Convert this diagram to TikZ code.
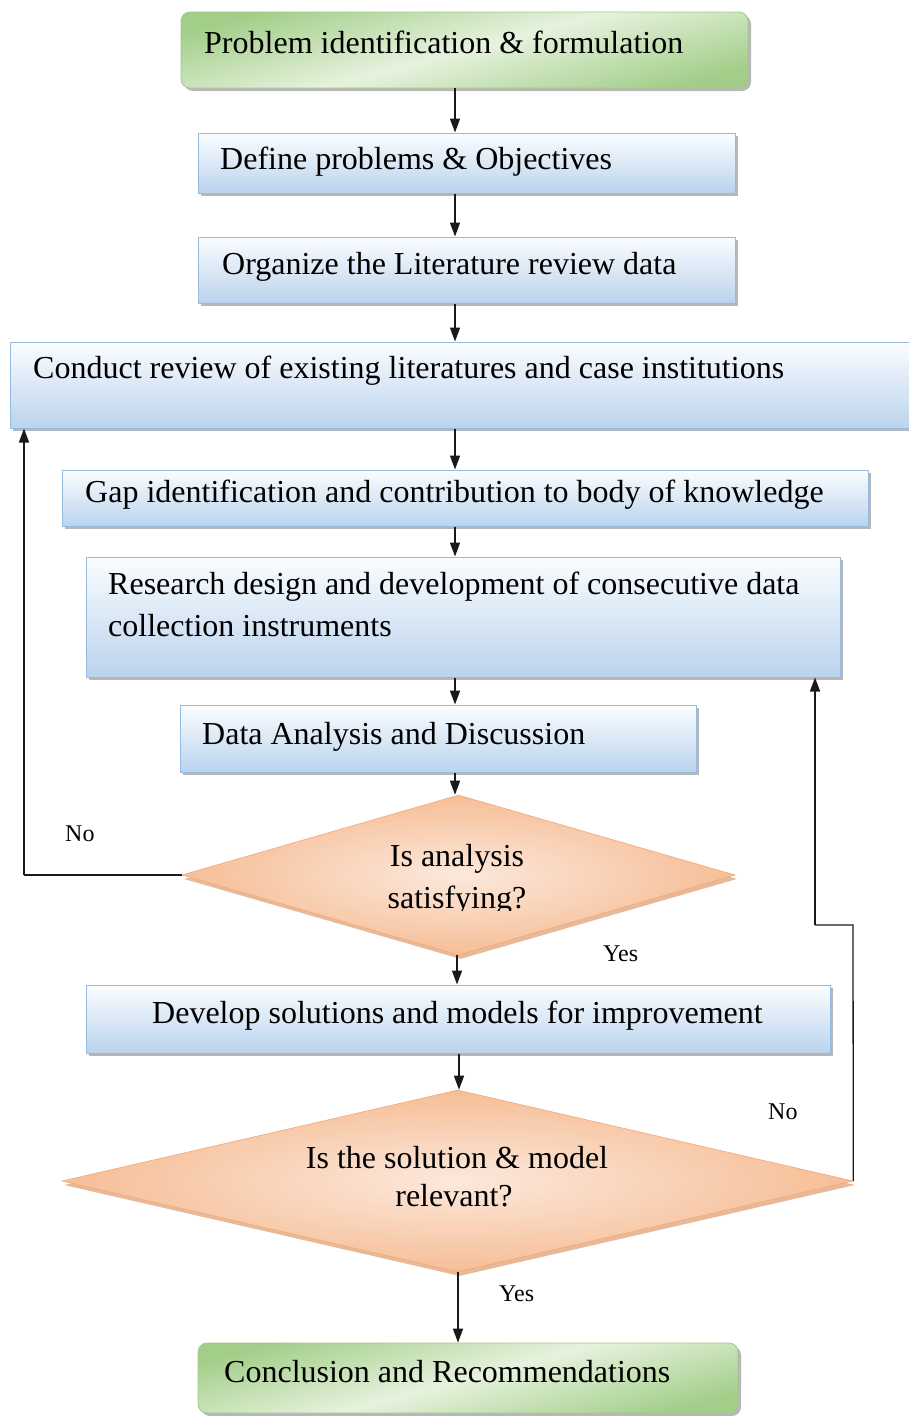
\documentclass[tikz,border=0pt]{standalone}
\usepackage{fontspec}
\setmainfont{Liberation Serif}
\usetikzlibrary{shapes.geometric,shadows,arrows.meta,calc}

\definecolor{bluetop}{RGB}{251,253,255}
\definecolor{bluebot}{RGB}{186,211,237}
\definecolor{blueline}{RGB}{150,186,224}
\definecolor{greendark}{RGB}{163,206,137}
\definecolor{greenlight}{RGB}{230,242,222}
\definecolor{greenline}{RGB}{160,202,134}
\definecolor{peachout}{RGB}{246,190,150}
\definecolor{peachin}{RGB}{252,232,220}
\definecolor{peachline}{RGB}{240,170,120}
\definecolor{peachshadow}{RGB}{225,168,128}

\tikzset{
  stepbox/.style={rectangle, draw=blueline, line width=1pt, inner sep=0pt,
    top color=bluetop, bottom color=bluebot,
    drop shadow={shadow xshift=3pt, shadow yshift=-3pt, fill=black!40, opacity=0.7}},
  termbox/.style={rectangle, rounded corners=9pt, draw=greenline, line width=0.8pt, inner sep=0pt,
    top color=greendark, bottom color=greendark, middle color=greenlight, shading angle=15,
    drop shadow={shadow xshift=3pt, shadow yshift=-3pt, fill=black!40, opacity=0.7}},
  decision/.style={diamond, inner sep=0pt, draw=peachline, line width=0.6pt,
    inner color=peachin, outer color=peachout,
    drop shadow={shadow xshift=2pt, shadow yshift=-4pt, fill=peachshadow, opacity=0.8}},
  txt/.style={inner sep=0pt, anchor=base west, font=\fontsize{32}{42}\selectfont},
  ctxt/.style={inner sep=0pt, anchor=base, font=\fontsize{32}{42}\selectfont},
  lbl/.style={inner sep=0pt, anchor=base west, font=\fontsize{24}{29}\selectfont},
  arr/.style={line width=1.5pt, draw=black!90, -{Triangle[length=14pt,width=10pt]}},
  link/.style={line width=1.3pt, draw=black!90},
}

\begin{document}
\begin{tikzpicture}[x=1pt, y=-1pt]
\useasboundingbox (0,0) rectangle (908,1416);
\fill[white] (0,0) rectangle (908,1416);

% process boxes
\node[termbox, minimum width=567pt, minimum height=76pt] (b1) at (464.5,50) {};
\node[stepbox, minimum width=537pt, minimum height=60pt] (b2) at (466.5,163) {};
\node[stepbox, minimum width=537pt, minimum height=66pt] (b3) at (466.5,270) {};
\node[stepbox, minimum width=905pt, minimum height=86pt] (b4) at (462.5,385) {};
\node[stepbox, minimum width=806pt, minimum height=56pt] (b5) at (465,498) {};
\node[stepbox, minimum width=754pt, minimum height=120pt] (b6) at (463,617) {};
\node[stepbox, minimum width=516pt, minimum height=67pt] (b7) at (438,738.5) {};
\node[decision, minimum width=553pt, minimum height=160pt] (d1) at (458.5,875) {};
\node[stepbox, minimum width=744pt, minimum height=68pt] (b8) at (458,1019) {};
\node[decision, minimum width=791pt, minimum height=182pt] (d2) at (457.5,1181) {};
\node[termbox, minimum width=540pt, minimum height=70pt] (b9) at (468,1378) {};

% box texts
\node[txt] (t1) at (204,53) {Problem identification \& formulation};
\node[txt] (t2) at (220,169) {Define problems \& Objectives};
\node[txt] (t3) at (222,274) {Organize the Literature review data};
\node[txt] (t4) at (33,378) {Conduct review of existing literatures and case institutions};
\node[txt] (t5) at (85,502) {Gap identification and contribution to body of knowledge};
\node[txt] (t6a) at (108,594) {Research design and development of consecutive data};
\node[txt] (t6b) at (108,636) {collection instruments};
\node[txt] (t7) at (202,744) {Data Analysis and Discussion};
\node[ctxt] (q1a) at (457,866) {Is analysis};
\begin{scope}
  \clip (300,880) rectangle (620,910);
  \node[ctxt] (q1b) at (457,908) {satisfying?};
\end{scope}
\node[txt] (t8) at (152,1023) {Develop solutions and models for improvement};
\node[ctxt] (q2a) at (457,1168) {Is the solution \& model};
\node[ctxt] (q2b) at (454,1206) {relevant?};
\node[txt] (t9) at (224,1382) {Conclusion and Recommendations};

% branch labels
\node[lbl] (no1) at (65,841) {No};
\node[lbl] (yes1) at (603,961) {Yes};
\node[lbl] (no2) at (768,1119) {No};
\node[lbl] (yes2) at (499,1301) {Yes};

% main flow
\coordinate (ax) at (455,0);
\draw[arr] (b1.south -| ax) -- (b2.north -| ax);
\draw[arr] (b2.south -| ax) -- (b3.north -| ax);
\draw[arr] (b3.south -| ax) -- (b4.north -| ax);
\draw[arr] (b4.south -| ax) -- (b5.north -| ax);
\draw[arr] (b5.south -| ax) -- (b6.north -| ax);
\draw[arr] (b6.south -| ax) -- (b7.north -| ax);
\draw[arr] (b7.south -| ax) -- (d1.north -| ax);
\coordinate (ay) at (457,0);
\draw[arr] (d1.south -| ay) -- (b8.north -| ay);
\coordinate (az) at (459,0);
\draw[arr] (b8.south -| az) -- (d2.north -| az);
\coordinate (aw) at (458,0);
\draw[arr] (d2.south -| aw) -- (b9.north -| aw);

% feedback loops
\coordinate (lx) at (24,0);
\coordinate (l1) at (d1.west -| lx);
\draw[link] (d1.west) -- (l1);
\draw[arr] (l1) -- (b4.south -| l1);
\coordinate (r1) at (853,925);
\coordinate (r2) at (815,925);
\draw[link] (d2.east) -- (r1) -- (r2);
\draw[arr] (r2) -- (b6.south -| r2);
\end{tikzpicture}
\end{document}
